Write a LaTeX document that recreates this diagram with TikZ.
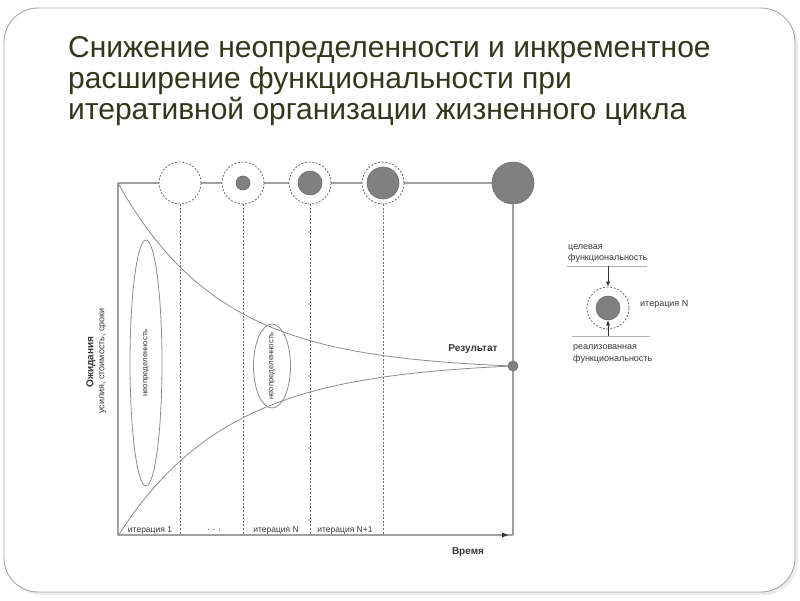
\documentclass[tikz,border=0pt]{standalone}
\usepackage{fontspec}
\setmainfont{Liberation Sans}
\usetikzlibrary{arrows.meta,shapes.geometric}
\definecolor{titlecol}{RGB}{52,54,28}
\definecolor{linecol}{RGB}{160,160,160}
\definecolor{curvecol}{RGB}{140,140,140}
\definecolor{dashcol}{RGB}{110,110,110}
\definecolor{fillcol}{RGB}{128,128,128}
\definecolor{txtcol}{RGB}{55,55,55}
\tikzset{
  frame/.style={draw=gray!70, line width=0.9pt, rounded corners=34},
  axisline/.style={draw=linecol, line width=1.3pt},
  curveline/.style={draw=curvecol, line width=0.8pt},
  dashline/.style={draw=dashcol, line width=0.7pt, dash pattern=on 2pt off 1.6pt},
  dcirc/.style={circle, draw=dashcol, fill=white, line width=0.8pt, dash pattern=on 2pt off 1.6pt, minimum size=42, inner sep=0},
  fcirc/.style={circle, draw=fillcol!85!black, fill=fillcol, line width=0.6pt, inner sep=0},
  lbl/.style={font=\fontsize{8.5}{10}\selectfont, text=txtcol, inner sep=0},
  blbl/.style={font=\fontsize{10}{12}\selectfont\bfseries, text=txtcol, inner sep=0},
  ell/.style={ellipse, draw=curvecol, line width=0.8pt, inner sep=0},
  arr/.style={draw=black!80, line width=0.6pt, -{Latex[length=5pt,width=4pt]}}
}
\begin{document}
\begin{tikzpicture}[x=1pt,y=-1pt]
\useasboundingbox (0,0) rectangle (800,600);
\fill[gray!15] (7,11) [rounded corners=34] rectangle (798,595);
\draw[frame, fill=white] (4,8) rectangle (795,592);

\node[anchor=north west, align=left, inner sep=0, text=titlecol,
      font=\fontsize{30}{31}\selectfont] (title) at (68,36)
  {Снижение неопределенности и инкрементное\\расширение функциональности при\\итеративной организации жизненного цикла};

% key coordinates
\coordinate (TL) at (118,183);
\coordinate (O) at (118,535);
\coordinate (R) at (513,535);
\coordinate (Rtip) at (508,535);

% top line (behind circles)
\draw[axisline] (TL) -- (513,183);
% axes
\draw[axisline] (TL) -- (O);
\draw[axisline] (O) -- (R);
\fill[black!80] (Rtip) -- ++(-6,-2.5) -- ++(0,5) -- cycle;

% dashed iteration lines
\foreach \xx in {180,243,310,383} {
  \draw[dashline] (\xx,204) -- (\xx,535);
}

% top circles
\node[dcirc] (c1) at (180,183) {};
\node[dcirc] (c2) at (243,183) {};
\node[fcirc, minimum size=14] (f2) at (243,183) {};
\node[dcirc] (c3) at (310,183) {};
\node[fcirc, minimum size=24] (f3) at (310,183) {};
\node[dcirc] (c4) at (383,183) {};
\node[fcirc, minimum size=32] (f4) at (383,183) {};
\node[fcirc, minimum size=42] (big) at (513,183) {};

% right vertical line
\draw[axisline] (big.south) -- (R);

% curves
\draw[curveline] plot[domain=118:513, samples=120]
  (\x, {366-183*(exp(-0.0096*(\x-118))-0.0226)/0.9774});
\draw[curveline] plot[domain=118:513, samples=120]
  (\x, {366+170*(exp(-0.009*(\x-118))-0.0286)/0.9714});

% result point
\node[fcirc, minimum size=10] (res) at (513,366) {};
\node[blbl] (reslbl) at (473,349) {Результат};

% ellipses
\node[ell, minimum width=32, minimum height=246] (e1) at (146,363) {};
\node[lbl, rotate=90, font=\fontsize{7.8}{9}\selectfont] (t1) at (e1.center) {неопределенность};
\node[ell, minimum width=37, minimum height=84] (e2) at (272,366) {};
\node[lbl, rotate=90, font=\fontsize{7.8}{9}\selectfont] (t2) at (e2.center) {неопределенность};

% axis labels
\node[blbl, rotate=90] (ylab) at (91,362) {Ожидания};
\node[lbl, rotate=90, font=\fontsize{9}{11}\selectfont] (ysub) at (103,361) {усилия, стоимость, сроки};
\node[blbl] (xlab) at (468,552) {Время};

% iteration labels
\node[lbl] (i1) at (150,530) {итерация 1};
\node[lbl] (idots) at (214,530) {. . .};
\node[lbl] (iN) at (276,530) {итерация N};
\node[lbl] (iN1) at (345,530) {итерация N+1};

% legend
\node[lbl, font=\fontsize{9}{11}\selectfont, align=left, anchor=south west] (tgt) at (568,263) {целевая\\функциональность};
\coordinate (tl1) at (567,266);
\coordinate (tl2) at (647,266);
\draw[draw=gray!60, line width=0.8pt] (tl1) -- (tl2);
\node[dcirc] (lc) at (608,308) {};
\node[fcirc, minimum size=24] (li) at (608,308) {};
\node[lbl, font=\fontsize{9}{11}\selectfont, anchor=west] (liter) at (640,304) {итерация N};
\coordinate (bl1) at (572,336);
\coordinate (bl2) at (650,336);
\draw[draw=gray!60, line width=0.8pt] (bl1) -- (bl2);
\node[lbl, font=\fontsize{9}{12}\selectfont, align=left, anchor=north west] (real) at (573,344) {реализованная\\функциональность};
\coordinate (ta) at (608,266);
\coordinate (ba) at (608,336);
\draw[arr] (ta) -- (lc.north);
\draw[arr] (ba) -- (li.south);
\end{tikzpicture}
\end{document}
